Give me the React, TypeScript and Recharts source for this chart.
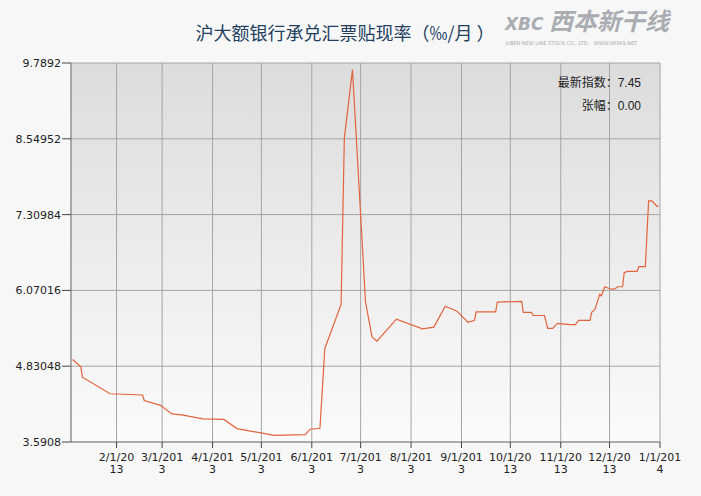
import { LineChart, Line, XAxis, YAxis, CartesianGrid } from "recharts";

// 沪大额银行承兑汇票贴现率 2013
const dates = [
  "2013-01-05", "2013-01-10", "2013-01-11", "2013-01-28", "2013-02-17", "2013-02-18",
  "2013-02-28", "2013-03-07", "2013-03-14", "2013-03-26", "2013-04-08", "2013-04-16",
  "2013-05-09", "2013-05-28", "2013-05-31", "2013-06-06", "2013-06-09", "2013-06-19",
  "2013-06-21", "2013-06-26", "2013-07-04", "2013-07-08", "2013-07-11", "2013-07-23",
  "2013-08-08", "2013-08-15", "2013-08-22", "2013-08-29", "2013-09-05", "2013-09-09",
  "2013-09-10", "2013-09-22", "2013-09-23", "2013-10-08", "2013-10-09", "2013-10-14",
  "2013-10-15", "2013-10-22", "2013-10-24", "2013-10-27", "2013-10-30", "2013-11-03",
  "2013-11-07", "2013-11-10", "2013-11-12", "2013-11-19", "2013-11-20", "2013-11-22",
  "2013-11-25", "2013-11-26", "2013-11-28", "2013-12-02", "2013-12-04", "2013-12-06",
  "2013-12-09", "2013-12-10", "2013-12-12", "2013-12-18", "2013-12-19", "2013-12-23",
  "2013-12-25", "2013-12-27", "2013-12-30", "2013-12-31",
];

const rates = [
  4.94, 4.82, 4.65, 4.38, 4.36, 4.27,
  4.19, 4.05, 4.03, 3.97, 3.96, 3.81,
  3.70, 3.71, 3.80, 3.815, 5.12, 5.84,
  8.56, 9.68, 5.88, 5.31, 5.24, 5.60,
  5.44, 5.47, 5.81, 5.735, 5.55, 5.58,
  5.72, 5.72, 5.88, 5.89, 5.71, 5.71,
  5.66, 5.66, 5.45, 5.45, 5.53, 5.52,
  5.51, 5.51, 5.58, 5.58, 5.71, 5.76,
  6.01, 5.98, 6.13, 6.09, 6.09, 6.13,
  6.13, 6.36, 6.38, 6.38, 6.46, 6.46,
  7.535, 7.535, 7.45, 7.45,
];

const monthTicks = [
  "2013-02-01", "2013-03-01", "2013-04-01", "2013-05-01", "2013-06-01", "2013-07-01",
  "2013-08-01", "2013-09-01", "2013-10-01", "2013-11-01", "2013-12-01", "2014-01-01",
];
const tickTop = ["2/1/20", "3/1/201", "4/1/201", "5/1/201", "6/1/201", "7/1/201",
  "8/1/201", "9/1/201", "10/1/20", "11/1/20", "12/1/20", "1/1/201"];
const tickBottom = ["13", "3", "3", "3", "3", "3", "3", "3", "13", "13", "13", "4"];

const yTicks = [3.5908, 4.83048, 6.07016, 7.30984, 8.54952, 9.7892];

const latestValue = "7.45";
const changeValue = "0.00";

const toTime = (s: string) => Date.parse(s + "T00:00:00Z");
const tickTimes = monthTicks.map(toTime);
const data = dates.map((d, i) => ({ t: toTime(d), rate: rates[i] }));

function MonthTick(props: any) {
  const { x, y, payload } = props;
  const i = tickTimes.indexOf(payload.value);
  return (
    <g transform={`translate(${x},${y})`}>
      <text textAnchor="middle" fill="#222" fontSize={11} fontFamily="DejaVu Sans">
        <tspan x={0} y={10.5}>{tickTop[i]}</tspan>
        <tspan x={0} y={23}>{tickBottom[i]}</tspan>
      </text>
    </g>
  );
}

export default function App() {
  return (
    <div
      style={{
        position: "absolute",
        left: 0,
        top: 0,
        width: 701,
        height: 496,
        background: "#f7f7f7",
        fontFamily: "'Noto Sans CJK SC', sans-serif",
      }}
    >
      <div
        style={{
          position: "absolute",
          left: 0,
          width: 690,
          top: 19,
          textAlign: "center",
          fontSize: 18,
          lineHeight: "26px",
          color: "#23405f",
          whiteSpace: "nowrap",
        }}
      >
        沪大额银行承兑汇票贴现率（‰/月 ）
      </div>
      <div
        style={{
          position: "absolute",
          left: 505,
          top: 6,
          color: "#a9adb2",
          whiteSpace: "nowrap",
        }}
      >
        <div style={{ fontSize: 24, lineHeight: "28px", fontStyle: "italic", fontWeight: 700 }}>
          <span style={{ fontFamily: "DejaVu Sans", fontSize: 17 }}>XBC</span> 西本新干线
        </div>
        <div style={{ fontSize: 5, lineHeight: "7px", fontFamily: "DejaVu Sans", marginTop: 2 }}>
          XIBEN NEW LINE STOCK CO., LTD. &nbsp; WWW.96369.NET
        </div>
      </div>
      <LineChart
        width={701}
        height={496}
        data={data}
        margin={{ top: 63, right: 41, bottom: 24, left: 0 }}
        style={{ position: "absolute", left: 0, top: 0 }}
      >
        <defs>
          <linearGradient id="plotBg" x1="0" y1="0" x2="0" y2="1">
            <stop offset="0%" stopColor="#dcdcdc" />
            <stop offset="100%" stopColor="#fbfbfb" />
          </linearGradient>
        </defs>
        <CartesianGrid fill="url(#plotBg)" fillOpacity={1} stroke="#a4a4a4" />
        <XAxis
          dataKey="t"
          type="number"
          height={30}
          domain={[toTime("2013-01-04"), toTime("2014-01-01")]}
          ticks={tickTimes}
          tick={<MonthTick />}
          tickSize={6}
          tickMargin={2}
          interval={0}
          axisLine={{ stroke: "#888" }}
          tickLine={{ stroke: "#444" }}
          allowDataOverflow
        />
        <YAxis
          type="number"
          width={71}
          domain={[3.5908, 9.7892]}
          ticks={yTicks}
          interval={0}
          tickSize={9}
          tickMargin={1}
          tickFormatter={(v: number) => String(v)}
          tick={{ fill: "#222", fontSize: 11, fontFamily: "DejaVu Sans" }}
          axisLine={{ stroke: "#888" }}
          tickLine={{ stroke: "#444" }}
          allowDataOverflow
        />
        <Line
          type="linear"
          dataKey="rate"
          stroke="#e2643c"
          strokeWidth={1.2}
          dot={false}
          isAnimationActive={false}
        />
      </LineChart>
      <div
        style={{
          position: "absolute",
          right: 60,
          top: 70,
          fontSize: 12,
          color: "#222",
          textAlign: "right",
          whiteSpace: "nowrap",
        }}
      >
        <div style={{ height: 23, lineHeight: "23px" }}>
          最新指数：<span style={{ fontFamily: "Liberation Sans" }}>{latestValue}</span>
        </div>
        <div style={{ height: 23, lineHeight: "23px" }}>
          张幅：<span style={{ fontFamily: "Liberation Sans" }}>{changeValue}</span>
        </div>
      </div>
    </div>
  );
}
